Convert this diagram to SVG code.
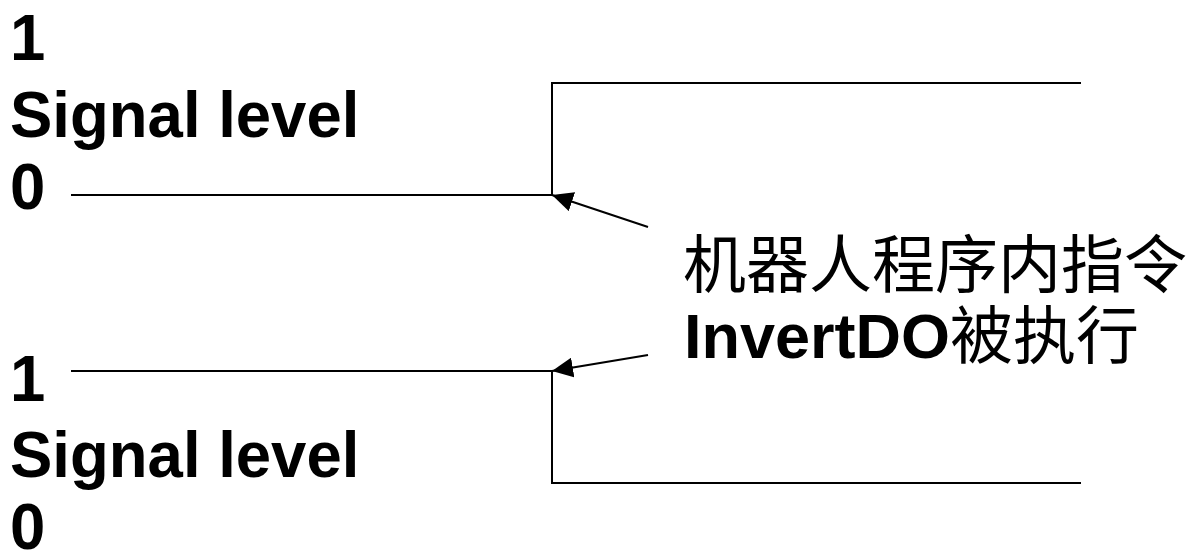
<svg xmlns="http://www.w3.org/2000/svg" width="1198" height="556" viewBox="0 0 1198 556">
  <style>
    .lbl { font-family: "Liberation Sans", Arial, sans-serif; font-weight: bold; font-size: 65px; fill: #000; }
    .note { font-size: 63px; fill: #000; }
    .cjk { font-family: "Noto Sans CJK SC", "Liberation Serif", sans-serif; font-weight: normal; }
    .lat { font-family: "Liberation Sans", Arial, sans-serif; font-weight: bold; }
    .sig { fill: none; stroke: #000; stroke-width: 2; }
    .ptr { fill: none; stroke: #000; stroke-width: 2; marker-end: url(#head); }
  </style>
  <defs>
    <marker id="head" markerUnits="userSpaceOnUse" markerWidth="22" markerHeight="20" refX="21" refY="10" orient="auto">
      <path d="M0,0 L21,10 L0,20 Z" fill="#000"/>
    </marker>
  </defs>
  <rect width="1198" height="556" fill="#fff"/>

  <!-- upper signal axis labels -->
  <g id="upper-labels" class="lbl">
    <text transform="translate(10,60) scale(0.977,1)">1</text>
    <text transform="translate(10,137) scale(0.977,1)">Signal level</text>
    <text transform="translate(10,209) scale(0.977,1)">0</text>
  </g>

  <!-- lower signal axis labels -->
  <g id="lower-labels" class="lbl">
    <text transform="translate(10,401) scale(0.977,1)">1</text>
    <text transform="translate(10,477) scale(0.977,1)">Signal level</text>
    <text transform="translate(10,549) scale(0.977,1)">0</text>
  </g>

  <!-- annotation text -->
  <g id="note" class="note">
    <text x="683" y="287" class="cjk">机器人程序内指令</text>
    <text x="684" y="358"><tspan class="lat">InvertDO</tspan><tspan class="cjk">被执行</tspan></text>
  </g>

  <!-- signal traces and pointers -->
  <g id="connectors">
    <polyline id="upper-signal" class="sig" points="71,195 552,195 552,83 1081,83"/>
    <polyline id="lower-signal" class="sig" points="71,371 552,371 552,483 1081,483"/>
    <line id="upper-pointer" class="ptr" x1="648" y1="227" x2="552" y2="195"/>
    <line id="lower-pointer" class="ptr" x1="648" y1="355" x2="552" y2="371"/>
  </g>
</svg>
